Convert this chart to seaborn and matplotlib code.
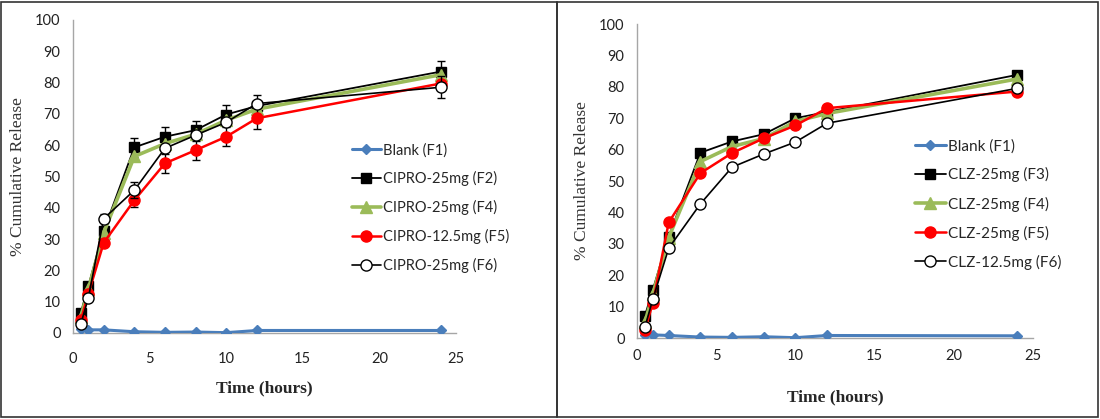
import matplotlib
matplotlib.use("Agg")
import matplotlib.pyplot as plt
from matplotlib.patches import Rectangle
from matplotlib.lines import Line2D
import seaborn as sns
import pandas as pd

# Sampling times (hours)
time_h = [0.5, 1, 2, 4, 6, 8, 10, 12, 24]

# Ciprofloxacin formulations (% cumulative release)
cipro_labels = ["Blank (F1)", "CIPRO-25mg (F2)", "CIPRO-25mg (F4)",
                "CIPRO-12.5mg (F5)", "CIPRO-25mg (F6)"]
cipro_f1 = [1.2, 1.0, 1.0, 0.4, 0.2, 0.3, 0.1, 0.8, 0.8]
cipro_f2 = [6.4, 15.0, 32.6, 59.3, 62.7, 64.8, 69.8, 72.5, 83.5]
cipro_f4 = [5.0, 14.0, 32.0, 56.4, 60.5, 63.5, 68.0, 71.5, 82.5]
cipro_f5 = [4.0, 12.5, 28.8, 42.4, 54.2, 58.4, 62.7, 68.6, 79.7]
cipro_f6 = [2.8, 11.2, 36.5, 45.6, 59.0, 63.2, 67.3, 73.3, 78.5]
cipro_f2_sd = [0, 0, 0, 3.0, 3.0, 2.8, 3.0, 3.5, 3.5]
cipro_f5_sd = [0, 0, 0, 2.2, 3.0, 3.0, 3.0, 3.5, 0]
cipro_f6_sd = [0, 0, 1.5, 2.5, 0, 0, 0, 0, 3.5]

# Clozapine formulations (% cumulative release)
clz_labels = ["Blank (F1)", "CLZ-25mg (F3)", "CLZ-25mg (F4)",
              "CLZ-25mg (F5)", "CLZ-12.5mg (F6)"]
clz_f1 = [1.0, 1.0, 0.8, 0.3, 0.2, 0.4, 0.1, 0.8, 0.7]
clz_f3 = [7.1, 15.4, 32.3, 59.0, 62.6, 64.9, 70.0, 72.0, 83.8]
clz_f4 = [5.0, 14.0, 32.0, 56.2, 61.0, 63.5, 69.0, 71.5, 82.5]
clz_f5 = [2.7, 11.1, 36.8, 52.5, 58.9, 63.6, 67.7, 73.2, 78.5]
clz_f6 = [3.5, 12.4, 28.6, 42.7, 54.4, 58.6, 62.4, 68.4, 79.5]

BLUE, GREEN, RED, BLACK = "#4a7ebb", "#9bbb59", "#ff0000", "#000000"
styles = [
    dict(color=BLUE, marker="D", ms=5, mfc=BLUE, mec=BLUE, lw=2.2),
    dict(color=BLACK, marker="s", ms=7.5, mfc=BLACK, mec=BLACK, lw=1.3),
    dict(color=GREEN, marker="^", ms=8, mfc=GREEN, mec=GREEN, lw=2.6),
    dict(color=RED, marker="o", ms=8, mfc=RED, mec=RED, lw=1.8),
    dict(color=BLACK, marker="o", ms=8, mfc="white", mec=BLACK, lw=1.2),
]

sns.set_style("white")
plt.rcParams["font.family"] = ["Lato", "DejaVu Sans"]

fig = plt.figure(figsize=(11, 4.19), dpi=100)

# Panel frames
fig.add_artist(Rectangle((0.001, 0.005), 0.505, 0.99, transform=fig.transFigure,
                         fill=False, ec="#333333", lw=1.2))
fig.add_artist(Rectangle((0.506, 0.005), 0.492, 0.99, transform=fig.transFigure,
                         fill=False, ec="#333333", lw=1.2))

ax1 = fig.add_axes([0.0664, 0.2053, 0.3481, 0.7470])
ax2 = fig.add_axes([0.5791, 0.1933, 0.3600, 0.7494])


def draw_panel(ax, labels, series, errs, leg_anchor, leg_size, leg_space,
               xpad, xlab_y, ylab_x):
    frames = []
    for lab, vals in zip(labels, series):
        frames.append(pd.DataFrame({"time": time_h, "release": vals, "series": lab}))
    df = pd.concat(frames, ignore_index=True)
    handles = []
    for i, lab in enumerate(labels):
        st = styles[i]
        sub = df[df["series"] == lab]
        if errs.get(i) is not None:
            yerr = errs[i]
            ax.errorbar(sub["time"], sub["release"], yerr=yerr, fmt="none",
                        ecolor="black", elinewidth=1.0, capsize=3, capthick=1.0,
                        zorder=2 + i)
        sns.lineplot(data=sub, x="time", y="release", ax=ax, color=st["color"],
                     lw=st["lw"], marker=st["marker"], markersize=st["ms"],
                     markerfacecolor=st["mfc"], markeredgecolor=st["mec"],
                     markeredgewidth=1.0, zorder=3 + i, legend=False,
                     errorbar=None, estimator=None)
        handles.append(Line2D([], [], color=st["color"], lw=st["lw"],
                              marker=st["marker"], ms=st["ms"],
                              mfc=st["mfc"], mec=st["mec"], mew=1.0))
    ax.set_xlim(0, 25)
    ax.set_ylim(0, 100)
    ax.set_xticks(range(0, 26, 5))
    ax.set_yticks(range(0, 101, 10))
    for side in ("top", "right"):
        ax.spines[side].set_visible(False)
    for side in ("left", "bottom"):
        ax.spines[side].set_color("#a6a6a6")
        ax.spines[side].set_linewidth(1.0)
    ax.tick_params(axis="y", length=0, pad=9, labelsize=10.5, colors="#222222")
    ax.tick_params(axis="x", length=0, pad=xpad, labelsize=10.5, colors="#222222")
    ax.set_xlabel("Time (hours)", family=["Liberation Serif"], fontweight="bold",
                  fontsize=12.5, va="center")
    ax.xaxis.set_label_coords(0.50, xlab_y)
    ax.set_ylabel("% Cumulative Release", family=["Liberation Serif"],
                  fontsize=12.5, va="center", color="#333333")
    ax.yaxis.set_label_coords(ylab_x, 0.50)
    ax.legend(handles, labels, loc="upper left", bbox_to_anchor=leg_anchor,
              frameon=False, fontsize=leg_size, handlelength=2.0,
              handletextpad=0.15, labelspacing=leg_space, borderpad=0,
              borderaxespad=0)


draw_panel(ax1, cipro_labels, [cipro_f1, cipro_f2, cipro_f4, cipro_f5, cipro_f6],
           {1: cipro_f2_sd, 3: cipro_f5_sd, 4: cipro_f6_sd},
           (0.728, 0.607), 10.5, 0.95, 14, -0.176, -0.1436)
draw_panel(ax2, clz_labels, [clz_f1, clz_f3, clz_f4, clz_f5, clz_f6],
           {}, (0.702, 0.634), 11, 0.92, 8, -0.188, -0.139)

fig.savefig("out.png", dpi=100)
